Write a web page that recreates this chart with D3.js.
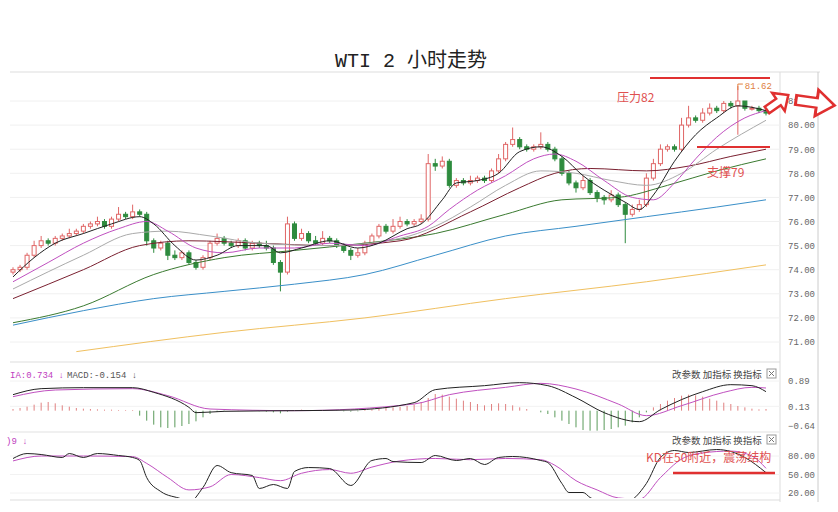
<!DOCTYPE html>
<html><head><meta charset="utf-8">
<script src="https://cdn.jsdelivr.net/npm/d3@7/dist/d3.min.js"></script>
<style>body{margin:0;background:#fff}</style></head>
<body><svg id="c" width="838" height="512"></svg>
<script>
const opens=[73.9,74.0,74.1,74.6,75.0,75.2,75.1,75.3,75.4,75.5,75.6,75.8,75.9,76.0,75.8,76.1,76.3,76.2,76.4,76.3,75.2,74.9,75.1,74.6,74.5,74.7,74.3,74.1,74.5,75.1,75.3,75.1,75.0,75.2,74.9,75.1,75.0,74.9,74.3,73.9,75.9,75.3,75.5,75.2,75.1,75.3,75.2,75.0,74.8,74.6,74.7,75.1,75.4,75.8,75.6,75.8,76.0,75.9,76.0,76.1,78.4,78.3,78.5,77.5,77.7,77.6,77.7,77.8,77.7,78.1,78.6,79.2,79.4,79.1,79.0,79.1,79.2,79.0,78.6,78.0,77.6,77.4,77.7,77.2,77.0,76.9,77.1,76.7,76.3,76.5,76.7,77.8,78.4,79.0,79.1,79.0,80.0,80.3,80.2,80.5,80.7,80.6,80.9,80.8,81.0,80.7,80.7,80.6];
const closes=[74.0,74.1,74.6,75.0,75.2,75.1,75.3,75.4,75.5,75.6,75.8,75.9,76.0,75.8,76.1,76.3,76.2,76.4,76.3,75.2,74.9,75.1,74.6,74.5,74.7,74.3,74.1,74.5,75.1,75.3,75.1,75.0,75.2,74.9,75.1,75.0,74.9,74.3,73.9,75.9,75.3,75.5,75.2,75.1,75.3,75.2,75.0,74.8,74.6,74.7,75.1,75.4,75.8,75.6,75.8,76.0,75.9,76.0,76.1,78.4,78.3,78.5,77.5,77.7,77.6,77.7,77.8,77.7,78.1,78.6,79.2,79.4,79.1,79.0,79.1,79.2,79.0,78.6,78.0,77.6,77.4,77.7,77.2,77.0,76.9,77.1,76.7,76.3,76.5,76.7,77.8,78.4,79.0,79.1,79.0,80.0,80.3,80.2,80.5,80.7,80.6,80.9,80.8,81.0,80.7,80.7,80.6,80.5];
const highs=[74.1,74.2,74.7,75.2,75.4,75.3,75.4,75.5,75.7,75.7,75.9,76.0,76.2,76.1,76.2,76.6,76.4,76.7,76.5,76.4,75.3,75.2,75.2,74.8,74.8,74.8,74.4,74.6,75.2,75.5,75.4,75.2,75.3,75.3,75.2,75.2,75.2,75.0,74.4,76.2,76.0,75.7,75.6,75.4,75.6,75.4,75.3,75.1,74.9,74.9,75.2,75.5,75.9,75.9,76.1,76.2,76.1,76.1,76.3,78.8,78.6,78.7,78.6,77.8,77.8,77.9,77.9,77.9,78.2,78.8,79.3,79.9,79.5,79.2,79.2,79.7,79.3,79.1,78.7,78.1,77.7,77.9,77.8,77.3,77.1,77.3,77.2,76.8,76.7,76.9,78.0,78.6,79.2,79.2,79.2,80.3,80.8,80.4,80.7,80.9,80.8,81.0,81.0,81.62,81.0,80.8,80.8,80.7];
const lows=[73.8,73.9,74.0,74.5,74.9,75.0,75.0,75.2,75.3,75.4,75.5,75.7,75.8,75.7,75.7,76.0,76.1,76.1,76.2,75.0,74.7,74.8,74.4,74.4,74.4,74.2,74.0,74.0,74.4,75.0,75.0,74.9,74.9,74.8,74.8,74.9,74.8,74.2,73.1,73.8,75.2,75.2,75.1,75.0,75.0,75.1,74.9,74.7,74.4,74.5,74.6,75.0,75.3,75.5,75.5,75.7,75.8,75.8,75.9,76.0,78.1,78.2,77.4,77.4,77.5,77.5,77.6,77.6,77.6,78.0,78.5,79.1,79.0,78.9,78.9,79.0,78.9,78.5,77.9,77.5,77.2,77.3,77.1,76.8,76.7,76.8,76.6,75.1,76.2,76.4,76.6,77.7,78.3,78.9,78.9,78.9,79.9,80.1,80.1,80.4,80.5,80.5,80.7,79.6,80.6,80.6,80.5,80.4];
// moving averages: [index, value]
const ma5=[[0,73.7],[3,74.5],[6,75.1],[10,75.5],[14,75.9],[18,76.2],[20,75.9],[23,75.0],[26,74.4],[29,74.6],[32,75.0],[36,75.0],[38,74.7],[41,74.9],[45,75.2],[49,74.9],[52,75.1],[56,75.7],[58,75.9],[61,76.9],[63,77.6],[66,77.7],[69,78.0],[72,78.9],[75,79.1],[78,78.7],[81,77.9],[84,77.3],[87,76.8],[89,76.5],[91,77.1],[94,78.5],[97,79.6],[100,80.3],[103,80.8],[107,80.6]];
const ma10=[[0,73.5],[5,74.3],[10,75.1],[15,75.7],[19,76.0],[22,75.6],[26,74.9],[30,74.7],[35,74.9],[40,74.9],[45,75.1],[50,75.0],[55,75.4],[59,75.8],[62,76.5],[66,77.3],[70,77.9],[74,78.6],[77,78.8],[80,78.5],[84,77.7],[88,77.0],[91,76.9],[94,77.6],[97,78.6],[100,79.5],[104,80.3],[107,80.6]];
const ma20=[[0,73.2],[10,74.6],[17,75.5],[22,75.6],[28,75.4],[35,75.1],[45,75.0],[55,75.3],[60,75.8],[65,76.6],[70,77.5],[75,78.1],[80,78.0],[85,77.7],[90,77.5],[95,78.0],[100,79.0],[107,80.2]];
const ma30=[[0,72.8],[10,74.0],[18,75.0],[25,75.2],[35,75.1],[45,75.0],[55,75.2],[65,76.4],[72,77.4],[77,78.0],[82,78.2],[90,78.1],[96,78.3],[102,78.7],[107,79.0]];
const ma60=[[0,71.8],[10,72.5],[20,73.8],[30,74.5],[40,74.8],[50,75.1],[60,75.5],[70,76.3],[78,76.9],[86,77.0],[93,77.5],[100,78.1],[107,78.6]];
const ma120=[[0,71.7],[10,72.3],[20,72.8],[30,73.1],[40,73.4],[50,73.8],[60,74.6],[70,75.4],[80,75.8],[90,76.2],[100,76.6],[107,76.9]];
const ma250=[[9,70.6],[30,71.4],[50,72.0],[70,72.8],[90,73.5],[107,74.2]];
const priceTicks=[71,72,73,74,75,76,77,78,79,80,81];
const dif=[[0,0.48],[4,0.66],[10,0.69],[17,0.69],[20,0.55],[25,0.1],[26,-0.06],[30,-0.02],[40,0.0],[48,0.02],[57,0.24],[60,0.63],[67,0.75],[72,0.84],[76,0.75],[80,0.39],[84,-0.06],[89,-0.33],[92,0.03],[98,0.57],[102,0.78],[105,0.75],[107,0.57]];
const dea=[[0,0.42],[6,0.62],[17,0.66],[22,0.45],[28,0.05],[40,0.0],[57,0.2],[62,0.48],[70,0.7],[75,0.82],[80,0.65],[86,0.2],[90,-0.15],[95,0.15],[101,0.55],[105,0.7],[107,0.68]];
const hist=[0.05,0.08,0.12,0.18,0.24,0.26,0.22,0.16,0.12,0.08,0.06,0.05,0.04,0.03,0.03,0.02,0.02,0.02,-0.15,-0.3,-0.42,-0.5,-0.52,-0.5,-0.46,-0.4,-0.32,-0.2,-0.1,-0.04,-0.02,0.0,0.01,0.0,-0.01,-0.02,-0.03,-0.05,-0.08,-0.03,0.02,0.03,0.02,0.01,0.01,0.0,-0.01,-0.02,-0.03,-0.02,0.02,0.04,0.06,0.08,0.1,0.12,0.14,0.18,0.25,0.38,0.5,0.48,0.42,0.36,0.3,0.26,0.2,0.16,0.2,0.22,0.2,0.16,0.1,0.05,0.0,-0.05,-0.1,-0.2,-0.3,-0.4,-0.5,-0.58,-0.6,-0.6,-0.58,-0.55,-0.5,-0.45,-0.35,-0.2,-0.05,0.1,0.2,0.3,0.38,0.45,0.48,0.46,0.42,0.36,0.3,0.24,0.2,0.14,0.1,0.06,0.04,0.05];
const macdTicks=[0.89,0.13,-0.64];
const kLine=[[0,75.9],[2,84],[4,82.4],[7,77.6],[8,84],[10,77.6],[12,84],[15,80.8],[17,77.6],[18,72.7],[19,45],[21,22.4],[24,10],[25,5],[27,29],[29,64.6],[31,53],[34,48.4],[35,27.3],[37,33.8],[39,27.3],[40,54.9],[42,61.3],[45,59.7],[48,32.2],[51,72.7],[53,75.9],[54,71],[58,69.4],[60,80.8],[63,72.7],[65,75.9],[67,66.2],[69,77.6],[71,79.2],[75,72.7],[76,69.4],[78,35.4],[79,20.8],[81,20.8],[82,12.7],[84,5],[87,5],[90,35.4],[92,77.6],[94,88.9],[96,85.7],[100,90.5],[102,87.3],[104,77.6],[107,53]];
const dLine=[[0,72],[4,80],[10,80],[17,79],[19,68],[22,45],[25,25],[28,30],[31,50],[35,45],[38,40],[41,52],[45,58],[48,52],[51,62],[55,72],[60,76],[65,74],[70,76],[75,74],[77,65],[80,40],[83,25],[86,12],[89,10],[92,45],[95,75],[98,85],[102,88],[105,80],[107,60]];
const kdjTicks=[80,50,20];

const svg=d3.select("#c");
const L=10,R=780;
const x=d3.scaleLinear().domain([0,closes.length-1]).range([13,766]);
const y=d3.scaleLinear().domain([71,81]).range([342,101]);
const ym=d3.scaleLinear().domain([-0.64,0.89]).range([432,381]);
const yk=d3.scaleLinear().domain([20,80]).range([493,456]);
const mono="'Liberation Mono','DejaVu Sans Mono',monospace";

svg.append("text").attr("x",411).attr("y",67).attr("text-anchor","middle").attr("font-family","'Liberation Mono','Noto Sans CJK SC',monospace").attr("font-size",20).attr("fill","#222").text("WTI 2 小时走势");

// frames
const frame=svg.append("g").attr("stroke","#ddd").attr("fill","none");
frame.append("line").attr("x1",L).attr("x2",820).attr("y1",72).attr("y2",72);
[362,432,500].forEach(v=>frame.append("line").attr("x1",L).attr("x2",R).attr("y1",v).attr("y2",v));
frame.append("line").attr("x1",R).attr("x2",R).attr("y1",72).attr("y2",502);
frame.append("line").attr("x1",818).attr("x2",818).attr("y1",72).attr("y2",502).attr("stroke","#ccc");

// grid + price axis
const g=svg.append("g");
priceTicks.forEach(t=>g.append("line").attr("x1",L).attr("x2",R).attr("y1",y(t)).attr("y2",y(t)).attr("stroke","#f0f0f0"));
const ax=svg.append("g").attr("transform",`translate(${R},0)`).call(d3.axisRight(y).tickValues(priceTicks).tickFormat(d3.format(".2f")).tickSize(0).tickPadding(8));
ax.select(".domain").remove();
ax.selectAll("text").attr("font-family",mono).attr("font-size",9).attr("fill","#666");

// candles
const cw=4;
const cg=svg.append("g");
closes.forEach((c,i)=>{
  const o=opens[i],up=c>=o,col=up?"#e06666":"#2e8b3e";
  cg.append("line").attr("x1",x(i)).attr("x2",x(i)).attr("y1",y(highs[i])).attr("y2",y(lows[i])).attr("stroke",col).attr("stroke-width",1);
  const top=y(Math.max(o,c)),h=Math.max(1,Math.abs(y(o)-y(c)));
  cg.append("rect").attr("x",x(i)-cw/2).attr("y",top).attr("width",cw).attr("height",h)
    .attr("fill",up?"#fff":col).attr("stroke",col).attr("stroke-width",1);
});
const line=d3.line().x(d=>x(d[0])).y(d=>y(d[1])).curve(d3.curveMonotoneX);
[[ma250,"#f0c060"],[ma120,"#3a8fc8"],[ma60,"#3a7a30"],[ma30,"#7a2030"],[ma20,"#aaaaaa"],[ma10,"#c050c0"],[ma5,"#222"]].forEach(([d,c])=>
  svg.append("path").attr("d",line(d)).attr("fill","none").attr("stroke",c).attr("stroke-width",1));

// annotations main
const red="#e03030";
svg.append("line").attr("x1",650).attr("x2",770).attr("y1",78).attr("y2",78).attr("stroke",red).attr("stroke-width",2);
svg.append("line").attr("x1",697).attr("x2",770).attr("y1",147).attr("y2",147).attr("stroke",red).attr("stroke-width",2);
svg.append("text").attr("x",617).attr("y",102).attr("font-family","'Noto Sans CJK SC',sans-serif").attr("font-size",12).attr("fill","#e05050").text("压力82");
svg.append("text").attr("x",707).attr("y",177).attr("font-family","'Noto Sans CJK SC',sans-serif").attr("font-size",12).attr("fill","#e05050").text("支撑79");
svg.append("path").attr("d",`M${x(103)},${y(81.62)+4}V${y(81.62)-2}H${x(103)+5}`).attr("stroke","#e08040").attr("fill","none");
svg.append("text").attr("x",x(103)+7).attr("y",y(81.62)+3).attr("font-family",mono).attr("font-size",9).attr("fill","#e08040").text("81.62");
// arrows
const arrow="M0,-4 L14,-4 L14,-11 L26,0 L14,11 L14,4 L0,4 Z";
svg.append("path").attr("d",arrow).attr("transform","translate(767,110) rotate(-35)").attr("fill","#fff").attr("stroke",red).attr("stroke-width",2.5);
svg.append("path").attr("d",arrow).attr("transform","translate(796,100) rotate(8) scale(1.5,1.2)").attr("fill","#fff").attr("stroke",red).attr("stroke-width",2);

// MACD
macdTicks.forEach(t=>svg.append("line").attr("x1",L).attr("x2",R).attr("y1",ym(t)).attr("y2",ym(t)).attr("stroke","#f2f2f2"));
const am=svg.append("g").attr("transform",`translate(${R},0)`).call(d3.axisRight(ym).tickValues(macdTicks).tickFormat(d3.format(".2f")).tickSize(0).tickPadding(8));
am.select(".domain").remove();
am.selectAll("text").attr("font-family",mono).attr("font-size",9).attr("fill","#666");
am.selectAll("text").filter(d=>d<0).attr("dy","-0.4em");
hist.forEach((h,i)=>svg.append("line").attr("x1",x(i)).attr("x2",x(i)).attr("y1",ym(0)).attr("y2",ym(h)).attr("stroke",h>=0?"#e08080":"#5a9a5a").attr("stroke-width",1));
const lm=d3.line().x(d=>x(d[0])).y(d=>ym(d[1])).curve(d3.curveMonotoneX);
svg.append("path").attr("d",lm(dea)).attr("fill","none").attr("stroke","#c050c0");
svg.append("path").attr("d",lm(dif)).attr("fill","none").attr("stroke","#222");
svg.append("text").attr("x",10).attr("y",378).attr("font-family",mono).attr("font-size",9).attr("fill","#c040c0").text("IA:0.734 ↓");
svg.append("text").attr("x",67).attr("y",378).attr("font-family",mono).attr("font-size",9).attr("fill","#555").text("MACD:-0.154 ↓");
function btns(yy){
  svg.append("text").attr("x",672).attr("y",yy).attr("font-family","'Noto Sans CJK SC',sans-serif").attr("font-size",9.5).attr("fill","#444").text("改参数  加指标  换指标");
  svg.append("rect").attr("x",767).attr("y",yy-9).attr("width",9).attr("height",9).attr("fill","#fff").attr("stroke","#999");
  svg.append("path").attr("d",`M769,${yy-7}l5,5M774,${yy-7}l-5,5`).attr("stroke","#777");
}
btns(378);

// KDJ
svg.append("defs").append("clipPath").attr("id","kc").append("rect").attr("x",L).attr("y",434).attr("width",R-L).attr("height",64);
kdjTicks.forEach(t=>svg.append("line").attr("x1",L).attr("x2",R).attr("y1",yk(t)).attr("y2",yk(t)).attr("stroke","#f2f2f2"));
const ak=svg.append("g").attr("transform",`translate(${R},0)`).call(d3.axisRight(yk).tickValues(kdjTicks).tickFormat(d3.format(".2f")).tickSize(0).tickPadding(8));
ak.select(".domain").remove();
ak.selectAll("text").attr("font-family",mono).attr("font-size",9).attr("fill","#666");
const lk=d3.line().x(d=>x(d[0])).y(d=>yk(d[1])).curve(d3.curveMonotoneX);
const kg=svg.append("g").attr("clip-path","url(#kc)");
kg.append("path").attr("d",lk(dLine)).attr("fill","none").attr("stroke","#c050c0");
kg.append("path").attr("d",lk(kLine)).attr("fill","none").attr("stroke","#222");
svg.append("text").attr("x",6).attr("y",444).attr("font-family",mono).attr("font-size",9).attr("fill","#c040c0").text(")9 ↓");
btns(444);
svg.append("line").attr("x1",673).attr("x2",775).attr("y1",473).attr("y2",473).attr("stroke",red).attr("stroke-width",2.5);
svg.append("text").attr("x",646).attr("y",462).attr("font-family","'Noto Sans CJK SC',sans-serif").attr("font-size",12).attr("fill","#e05050").text("KD在50附近，震荡结构");
</script></body></html>
